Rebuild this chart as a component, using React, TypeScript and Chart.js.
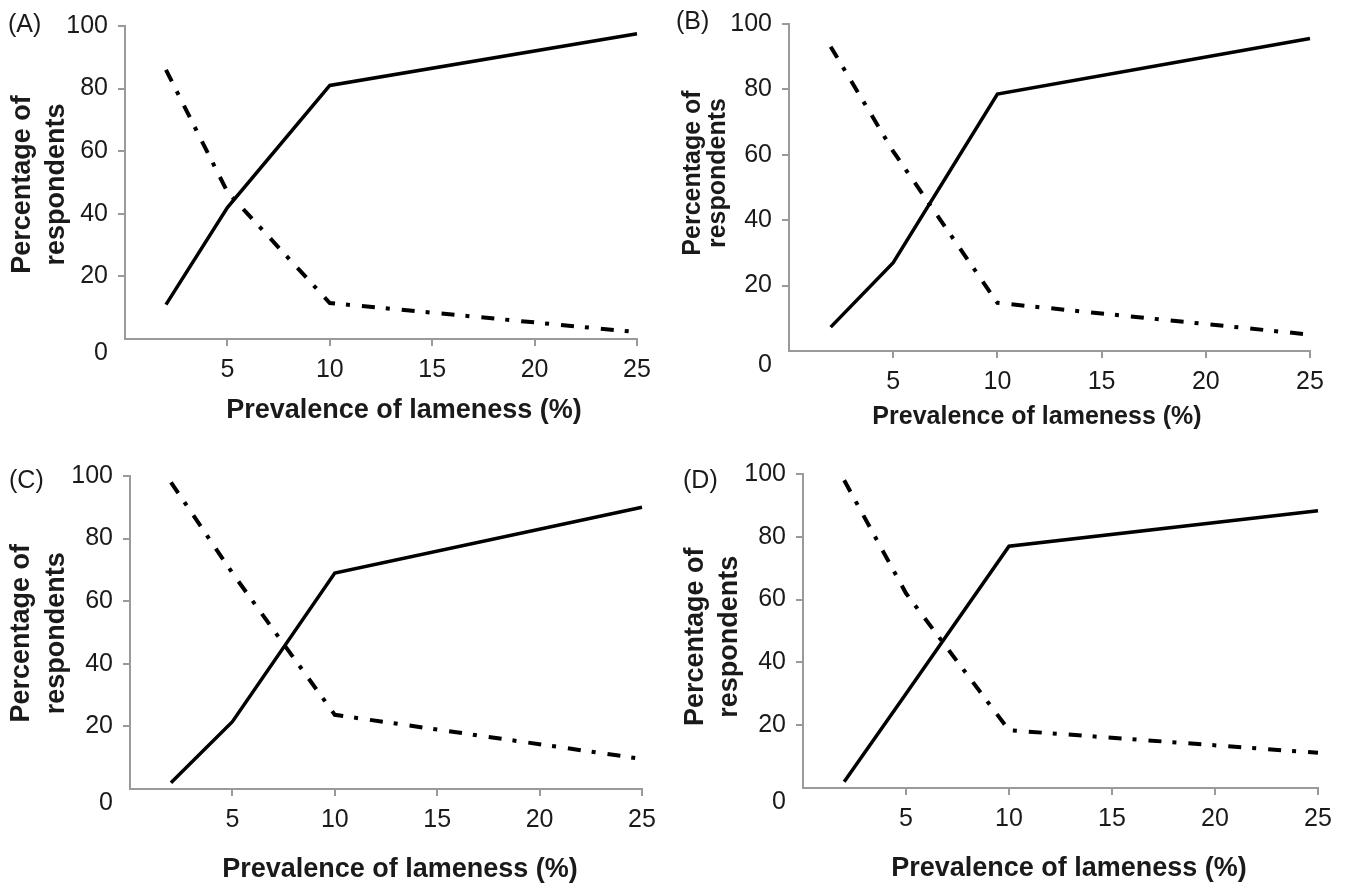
import React, { useEffect, useRef } from 'react';
import { Chart, registerables } from 'chart.js';

Chart.register(...registerables);

// ---- data ----
const prevalence = [2, 5, 10, 25];
const solidA = [11, 42, 81, 97.5];
const dashA = [86, 47, 11.5, 2.2];
const solidB = [7.3, 27, 78.5, 95.5];
const dashB = [93, 61, 14.7, 5];
const solidC = [2, 21.5, 69, 90];
const dashC = [98, 69, 23.7, 9.6];
const solidD = [2, 30, 77, 88.3];
const dashD = [98, 62, 18.4, 11.2];

const panelLabels = ['(A)', '(B)', '(C)', '(D)'];
const xTitle = 'Prevalence of lameness (%)';
const yTitle = ['Percentage of', 'respondents'];
const xMin = 0;
const xMax = 25;
const xStep = 5;
const yMin = 0;
const yMax = 100;
const yStep = 20;

const solidSeries = [solidA, solidB, solidC, solidD];
const dashSeries = [dashA, dashB, dashC, dashD];

// ---- layout (page coordinates) ----
const layouts = [
  { left: 0, top: 0, w: 673, h: 442, yW: 125, padTop: 26, padRight: 36, xH: 103, labelX: 8, labelY: 25, xtX: 404, xtY: 411, xtSize: 27, ytSize: 27, ytX: [23, 56.4], ytY: 184.5 },
  { left: 673, top: 0, w: 674, h: 442, yW: 116, padTop: 20, padRight: 37, xH: 91, labelX: 676, labelY: 22, xtX: 1037, xtY: 417, xtSize: 25, ytSize: 25, ytX: [692.7, 718.6], ytY: 173 },
  { left: 0, top: 442, w: 673, h: 443, yW: 130, padTop: 34, padRight: 31, xH: 96, labelX: 9, labelY: 481, xtX: 400, xtY: 870, xtSize: 27, ytSize: 27, ytX: [21.7, 56.4], ytY: 633.3 },
  { left: 673, top: 442, w: 674, h: 443, yW: 130, padTop: 32, padRight: 29, xH: 97, labelX: 683, labelY: 481, xtX: 1069, xtY: 869, xtSize: 27, ytSize: 27, ytX: [696, 729.4], ytY: 636.7 },
];

const FONT = '"Liberation Sans", Arial, Helvetica, sans-serif';
const AXIS_GRAY = '#9a9a9a';
const TEXT = '#1a1a1a';

const textPlugin = {
  id: 'panelText',
  afterDraw(chart: any, _args: any, opts: any) {
    const ctx = chart.ctx;
    ctx.save();
    ctx.fillStyle = TEXT;
    ctx.font = `25px ${FONT}`;
    ctx.textAlign = 'left';
    ctx.textBaseline = 'middle';
    ctx.fillText(opts.label, opts.labelX, opts.labelY);
    ctx.font = `bold ${opts.xtSize}px ${FONT}`;
    ctx.textAlign = 'center';
    ctx.fillText(opts.xTitle, opts.xtX, opts.xtY);
    ctx.font = `bold ${opts.ytSize}px ${FONT}`;
    (opts.yTitle as string[]).forEach((line: string, i: number) => {
      ctx.save();
      ctx.translate(opts.ytX[i], opts.ytY);
      ctx.rotate(-Math.PI / 2);
      ctx.textAlign = 'center';
      ctx.textBaseline = 'middle';
      ctx.fillText(line, 0, 0);
      ctx.restore();
    });
    ctx.restore();
  },
};

function Panel({ idx }: { idx: number }) {
  const ref = useRef<HTMLCanvasElement | null>(null);
  const L = layouts[idx];
  useEffect(() => {
    if (!ref.current) return;
    const chart = new Chart(ref.current, {
      type: 'line',
      data: {
        datasets: [
          {
            label: 'solid',
            data: prevalence.map((x, i) => ({ x, y: solidSeries[idx][i] })),
            borderColor: '#000',
            borderWidth: 3.5,
            pointRadius: 0,
            tension: 0,
            clip: false as any,
            borderCapStyle: 'butt',
          },
          {
            label: 'dash',
            data: prevalence.map((x, i) => ({ x, y: dashSeries[idx][i] })),
            borderColor: '#000',
            borderWidth: 4,
            borderDash: [13, 11, 4, 12],
            pointRadius: 0,
            tension: 0,
            clip: false as any,
            borderCapStyle: 'butt',
          },
        ],
      },
      plugins: [textPlugin as any],
      options: {
        responsive: false,
        animation: false,
        layout: { padding: { left: 0, top: L.padTop, right: L.padRight, bottom: 0 } },
        plugins: {
          legend: { display: false },
          tooltip: { enabled: false },
          panelText: {
            label: panelLabels[idx],
            labelX: L.labelX - L.left,
            labelY: L.labelY - L.top,
            xTitle,
            xtX: L.xtX - L.left,
            xtY: L.xtY - L.top,
            xtSize: L.xtSize,
            yTitle,
            ytX: L.ytX.map((v) => v - L.left),
            ytY: L.ytY - L.top,
            ytSize: L.ytSize,
          },
        } as any,
        scales: {
          x: {
            type: 'linear',
            min: xMin,
            max: xMax,
            afterFit: (s: any) => { s.height = L.xH; },
            border: { display: true, color: AXIS_GRAY, width: 2 },
            grid: {
              drawOnChartArea: false,
              drawTicks: true,
              tickLength: 7,
              lineWidth: 2,
              color: (c: any) => (c.tick && c.tick.value === 0 ? 'rgba(0,0,0,0)' : AXIS_GRAY),
            },
            ticks: {
              stepSize: xStep,
              padding: 9,
              color: TEXT,
              font: { family: FONT, size: 25 },
              maxRotation: 0,
              callback: (v: any) => (v === 0 ? '' : String(v)),
            },
          },
          y: {
            type: 'linear',
            min: yMin,
            max: yMax,
            afterFit: (s: any) => { s.width = L.yW; },
            border: { display: true, color: AXIS_GRAY, width: 2 },
            grid: {
              drawOnChartArea: false,
              drawTicks: true,
              tickLength: 7,
              lineWidth: 2,
              color: (c: any) => (c.tick && c.tick.value === 0 ? 'rgba(0,0,0,0)' : AXIS_GRAY),
            },
            ticks: {
              stepSize: yStep,
              padding: 10,
              color: TEXT,
              font: { family: FONT, size: 25, lineHeight: 1.1 },
              callback: (v: any) => (v === 0 ? ['', '0'] : String(v)),
            },
          },
        },
      } as any,
    });
    return () => chart.destroy();
  }, [idx]);
  return (
    <canvas
      ref={ref}
      width={L.w}
      height={L.h}
      style={{ position: 'absolute', left: L.left, top: L.top, width: L.w, height: L.h }}
    />
  );
}

export default function App() {
  return (
    <div style={{ position: 'absolute', left: 0, top: 0, width: 1347, height: 885, background: '#fff', overflow: 'hidden' }}>
      {[0, 1, 2, 3].map((i) => (
        <Panel key={i} idx={i} />
      ))}
    </div>
  );
}
